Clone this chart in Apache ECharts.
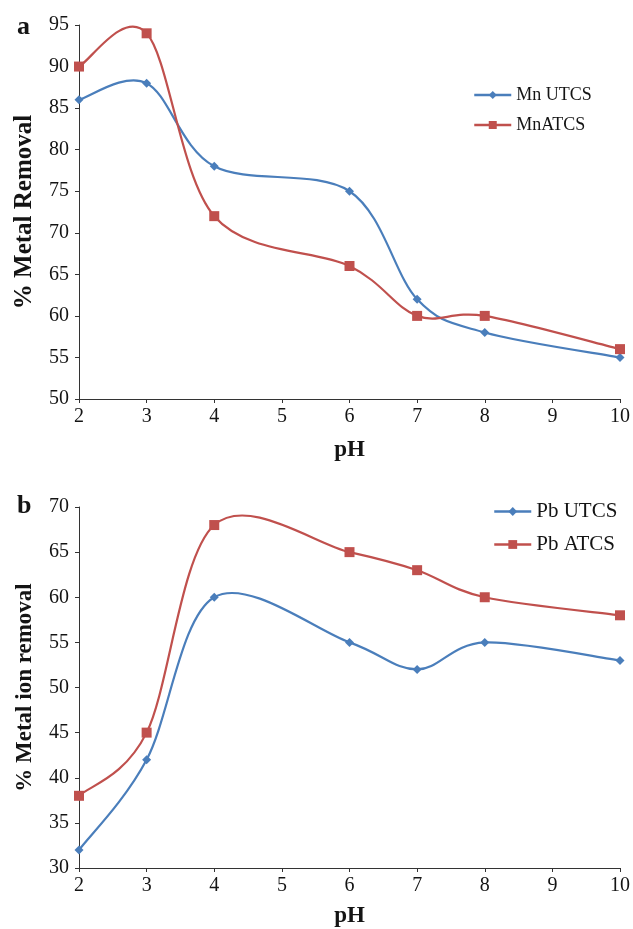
<!DOCTYPE html>
<html>
<head>
<meta charset="utf-8">
<script src="https://cdn.jsdelivr.net/npm/echarts@6/dist/echarts.min.js"></script>
<style>html,body{margin:0;padding:0;background:#fff}#c{width:633px;height:929px}</style>
</head>
<body>
<div id="c"></div>
<script>
const phValues = [2, 3, 4, 6, 7, 8, 10];
const mnUTCS = [86, 88, 78, 75, 62, 58, 55];
const mnATCS = [90, 94, 72, 66, 60, 60, 56];
const pbUTCS = [32, 42, 60, 55, 52, 55, 53];
const pbATCS = [38, 45, 68, 65, 63, 60, 58];
const seriesNames = ['Mn UTCS', 'MnATCS', 'Pb UTCS', 'Pb ATCS'];
const panelLabels = ['a', 'b'];
const yTitles = ['% Metal Removal', '% Metal ion removal'];
const xTitle = 'pH';

const BLUE = '#4a7ebb';
const RED = '#c0504d';
const FONT = '"Liberation Serif", "Times New Roman", serif';
const INK = '#141414';

function pairs(ys) { return phValues.map((x, i) => [x, ys[i]]); }

function xAxis(gi, gap) {
  return {
    type: 'value', gridIndex: gi, min: 2, max: 10, interval: 1,
    name: xTitle, nameLocation: 'middle', nameGap: gap,
    nameTextStyle: { fontFamily: FONT, fontSize: 23, fontWeight: 'bold', color: INK },
    axisLine: { show: true, lineStyle: { color: '#333', width: 1 } },
    axisTick: { show: true, length: 4, lineStyle: { color: '#333' } },
    axisLabel: { fontFamily: FONT, fontSize: 20, color: INK, margin: 8 },
    splitLine: { show: false }
  };
}
function yAxis(gi, min, max, title, fs) {
  return {
    type: 'value', gridIndex: gi, min: min, max: max, interval: 5,
    name: title, nameLocation: 'middle', nameGap: 42, nameRotate: 90,
    nameTextStyle: { fontFamily: FONT, fontSize: fs, fontWeight: 'bold', color: INK },
    axisLine: { show: true, lineStyle: { color: '#333', width: 1 } },
    axisTick: { show: true, length: 4, lineStyle: { color: '#333' } },
    axisLabel: { fontFamily: FONT, fontSize: 20, color: INK, margin: 10 },
    splitLine: { show: false }
  };
}
// markers (line itself hidden; the curve is drawn by the custom series below)
function markers(name, data, gi, color, symbol, size) {
  return {
    name: name, type: 'line', xAxisIndex: gi, yAxisIndex: gi, z: 3,
    data: pairs(data), symbol: symbol, symbolSize: size, showSymbol: true,
    lineStyle: { color: color, width: 2, opacity: 0 },
    itemStyle: { color: color },
    emphasis: { disabled: true }
  };
}
// smooth curve (Catmull-Rom style, like spreadsheet smoothing) through the library's coords
function curve(name, data, gi, color) {
  const n = phValues.length;
  const cl = k => Math.max(0, Math.min(n - 1, k));
  return {
    name: name + ' curve', type: 'custom', xAxisIndex: gi, yAxisIndex: gi, z: 2,
    data: pairs(data), encode: { x: 0, y: 1 }, silent: true,
    renderItem: function (params, api) {
      const i = params.dataIndex;
      if (i >= n - 1) return null;
      const P = k => api.coord([phValues[cl(k)], data[cl(k)]]);
      const p0 = P(i - 1), p1 = P(i), p2 = P(i + 1), p3 = P(i + 2);
      const t = 1 / 6;
      return {
        type: 'bezierCurve',
        shape: {
          x1: p1[0], y1: p1[1], x2: p2[0], y2: p2[1],
          cpx1: p1[0] + (p2[0] - p0[0]) * t, cpy1: p1[1] + (p2[1] - p0[1]) * t,
          cpx2: p2[0] - (p3[0] - p1[0]) * t, cpy2: p2[1] - (p3[1] - p1[1]) * t
        },
        style: { stroke: color, lineWidth: 2.2, fill: null }
      };
    }
  };
}

const chart = echarts.init(document.getElementById('c'), null, { renderer: 'canvas' });
chart.setOption({
  animation: false,
  backgroundColor: '#fff',
  grid: [
    { left: 79, right: 11, top: 25, height: 374 },
    { left: 79, right: 11, top: 507, height: 365 }
  ],
  xAxis: [xAxis(0, 40), xAxis(1, 37)],
  yAxis: [yAxis(0, 50, 95, yTitles[0], 25), yAxis(1, 30, 70, yTitles[1], 23)],
  legend: [
    { data: [
        { name: seriesNames[0], lineStyle: { color: BLUE, width: 2.5, opacity: 1 } },
        { name: seriesNames[1], lineStyle: { color: RED, width: 2.5, opacity: 1 } }
      ],
      orient: 'vertical', left: 473, top: 86, padding: 0, itemGap: 12,
      itemWidth: 37, itemHeight: 10, textStyle: { fontFamily: FONT, fontSize: 18, color: INK } },
    { data: [
        { name: seriesNames[2], lineStyle: { color: BLUE, width: 2.5, opacity: 1 } },
        { name: seriesNames[3], lineStyle: { color: RED, width: 2.5, opacity: 1 } }
      ],
      orient: 'vertical', left: 493, top: 501, padding: 0, itemGap: 12,
      itemWidth: 37, itemHeight: 11, textStyle: { fontFamily: FONT, fontSize: 21, color: INK } }
  ],
  graphic: [
    { type: 'text', left: 17, top: 14, style: { text: panelLabels[0], font: 'bold 26px ' + FONT, fill: INK } },
    { type: 'text', left: 17, top: 493, style: { text: panelLabels[1], font: 'bold 26px ' + FONT, fill: INK } }
  ],
  series: [
    curve(seriesNames[0], mnUTCS, 0, BLUE),
    curve(seriesNames[1], mnATCS, 0, RED),
    curve(seriesNames[2], pbUTCS, 1, BLUE),
    curve(seriesNames[3], pbATCS, 1, RED),
    markers(seriesNames[0], mnUTCS, 0, BLUE, 'diamond', 9),
    markers(seriesNames[1], mnATCS, 0, RED, 'rect', 10),
    markers(seriesNames[2], pbUTCS, 1, BLUE, 'diamond', 9),
    markers(seriesNames[3], pbATCS, 1, RED, 'rect', 10)
  ]
});
</script>
</body>
</html>
